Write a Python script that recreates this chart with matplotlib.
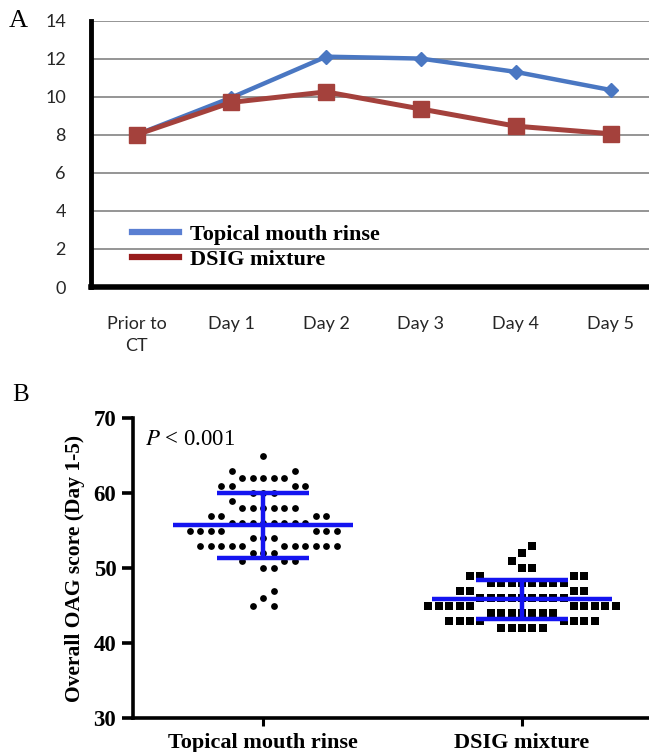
"""Two-panel figure: OAG trend by day (A) and overall OAG score dot plot (B)."""

import numpy as np
import matplotlib

matplotlib.use("Agg", force=True)
import matplotlib.pyplot as plt
from matplotlib.lines import Line2D

plt.rcParams["mathtext.fontset"] = "stix"

# --- panel A data --------------------------------------------------------
DAY_LABELS = ["Prior to\nCT", "Day 1", "Day 2", "Day 3", "Day 4", "Day 5"]
RINSE_TREND = [8.0, 9.95, 12.1, 12.0, 11.3, 10.35]
DSIG_TREND = [8.0, 9.7, 10.25, 9.35, 8.45, 8.05]
SERIES_NAMES = ["Topical mouth rinse", "DSIG mixture"]

# --- panel B data (score level -> number of patients) ---------------------
GROUP_NAMES = ["Topical mouth rinse", "DSIG mixture"]
RINSE_SCORES = [65, 63, 62, 61, 60, 59, 58, 57, 56, 55, 54, 53, 52, 51, 50, 47, 46, 45]
RINSE_COUNTS = [1, 2, 5, 4, 3, 1, 6, 4, 8, 7, 3, 11, 3, 3, 2, 1, 1, 2]
DSIG_SCORES = [53, 52, 51, 50, 49, 48, 47, 46, 45, 44, 43, 42]
DSIG_COUNTS = [1, 1, 1, 2, 4, 8, 4, 9, 10, 7, 8, 5]
P_TEXT = r"$P$ < 0.001"

W, H = 649, 752
BLUE = "#4a77c2"
RED = "#a4413c"
BAR_BLUE = "#1414f0"
SERIF = "Liberation Serif"

# panel B pixel scale, used by the swarm layout
B_LEFT, B_RIGHT, B_TOP, B_BOTTOM = 133, 649, 418, 718
B_XLIM = (-0.502, 1.49)
B_YLIM = (30, 70)


def px_axes(fig, left, top, right, bottom):
    """Axes placed by pixel edges of the final image."""
    return fig.add_axes([left / W, 1 - bottom / H, (right - left) / W, (bottom - top) / H])


def plot_trend(fig):
    ax = px_axes(fig, 91, 20.5, 649, 287)
    x = np.arange(len(DAY_LABELS))
    ax.plot(x, RINSE_TREND, color=BLUE, lw=3.2, marker="D", ms=7.5, zorder=3)
    ax.plot(x, DSIG_TREND, color=RED, lw=3.6, marker="s", ms=11, zorder=4)

    ax.set_xlim(-0.48, 5.405)
    ax.set_ylim(0, 14)
    ax.set_yticks(range(0, 15, 2))
    ax.set_xticks(x)
    ax.set_xticklabels(DAY_LABELS, linespacing=1.45)
    ax.grid(axis="y", color="#8c8c8c", lw=1.3)
    ax.set_axisbelow(True)
    for side in ("top", "right"):
        ax.spines[side].set_visible(False)
    ax.spines["left"].set_linewidth(3.5)
    ax.spines["bottom"].set_linewidth(4)
    ax.tick_params(length=0, labelsize=13, colors="#262626")
    ax.tick_params(axis="y", pad=18)
    ax.tick_params(axis="x", pad=21)
    for lab in ax.get_xticklabels() + ax.get_yticklabels():
        lab.set_fontfamily("Lato")
    for lab in ax.get_xticklabels():
        lab.set_verticalalignment("top")

    handles = [Line2D([], [], color="#5a7fd2", lw=4.5), Line2D([], [], color="#981c1c", lw=4.5)]
    ax.legend(
        handles,
        SERIES_NAMES,
        loc="upper left",
        bbox_to_anchor=(0.0735, 0.235),
        frameon=False,
        borderpad=0,
        borderaxespad=0,
        handlelength=2.1,
        handletextpad=0.5,
        labelspacing=0.2,
        prop={"family": SERIF, "weight": "bold", "size": 16},
    )
    fig.text(9 / W, 1 - 21 / H, "A", family=SERIF, fontsize=19, va="center", ha="left")


def swarm_offsets(scores, counts, spacing_px):
    """Greedy beeswarm in pixel space: even scores are laid out first, then
    odd scores fill the gaps left by their neighbours (as Prism does)."""
    px_per_y = (B_BOTTOM - B_TOP) / (B_YLIM[1] - B_YLIM[0])
    px_per_x = (B_RIGHT - B_LEFT) / (B_XLIM[1] - B_XLIM[0])
    grid = spacing_px / 2
    order = sorted(range(len(scores)), key=lambda i: (scores[i] % 2, -scores[i]))
    placed = []  # (x_px, y_px)
    xs, ys = [], []
    for i in order:
        y_px = scores[i] * px_per_y
        for _ in range(counts[i]):
            k = 0
            while True:
                for cand in ((k * grid,) if k == 0 else (k * grid, -k * grid)):
                    if all(np.hypot(cand - px, y_px - py) >= spacing_px - 0.01 for px, py in placed):
                        break
                else:
                    k += 1
                    continue
                break
            placed.append((cand, y_px))
            xs.append(cand / px_per_x)
            ys.append(scores[i])
    return np.array(xs), np.array(ys, dtype=float)


def plot_dots(fig):
    ax = px_axes(fig, B_LEFT, B_TOP, B_RIGHT, B_BOTTOM)
    groups = [
        (RINSE_SCORES, RINSE_COUNTS, "o", 24, 10.5),
        (DSIG_SCORES, DSIG_COUNTS, "s", 33, 10.4),
    ]
    for pos, (scores, counts, marker, size, spacing) in enumerate(groups):
        dx, ys = swarm_offsets(scores, counts, spacing)
        ax.scatter(pos + dx, ys, s=size, marker=marker, color="black", linewidths=0, zorder=2)
        mean = ys.mean()
        sd = ys.std(ddof=1)
        ax.hlines(mean, pos - 0.347, pos + 0.347, color=BAR_BLUE, lw=3.2, zorder=4)
        ax.hlines([mean - sd, mean + sd], pos - 0.178, pos + 0.178, color=BAR_BLUE, lw=3.2, zorder=4)
        ax.vlines(pos, mean - sd, mean + sd, color=BAR_BLUE, lw=3.2, zorder=4)

    ax.set_xlim(*B_XLIM)
    ax.set_ylim(*B_YLIM)
    ax.set_yticks(range(30, 71, 10))
    ax.set_xticks([0, 1])
    ax.set_xticklabels(GROUP_NAMES)
    for side in ("top", "right"):
        ax.spines[side].set_visible(False)
    for side in ("left", "bottom"):
        ax.spines[side].set_linewidth(2.6)
    ax.tick_params(axis="y", length=8, width=2.6, pad=4, labelsize=16.5)
    ax.tick_params(axis="x", length=6, width=2.2, pad=5, labelsize=16)
    for lab in ax.get_xticklabels() + ax.get_yticklabels():
        lab.set_fontfamily(SERIF)
        lab.set_fontweight("bold")
    ax.set_ylabel("Overall OAG score (Day 1-5)", family=SERIF, fontweight="bold",
                  fontsize=15.5, labelpad=6)
    ax.text(-0.456, 67.1, P_TEXT, family=SERIF, fontsize=16.5, va="center", ha="left")
    fig.text(12 / W, 1 - 395 / H, "B", family=SERIF, fontsize=18, va="center", ha="left")


def main():
    fig = plt.figure(figsize=(W / 100, H / 100), dpi=100)
    plot_trend(fig)
    plot_dots(fig)
    fig.savefig("out.png", dpi=100)
    plt.close(fig)


if __name__ == "__main__":
    main()
